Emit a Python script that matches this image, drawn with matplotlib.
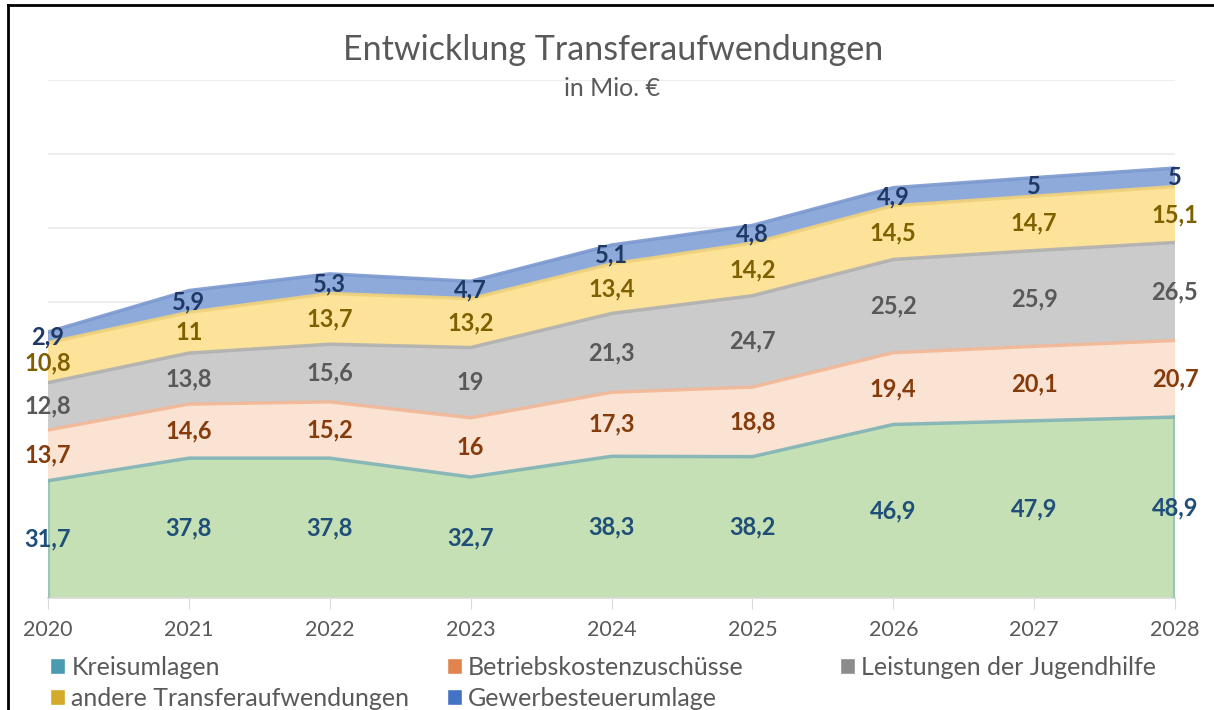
import numpy as np
import matplotlib.pyplot as plt
from matplotlib.patches import Patch
from matplotlib.lines import Line2D

plt.rcParams['font.family'] = ['Lato', 'DejaVu Sans']

years = ['2020', '2021', '2022', '2023', '2024', '2025', '2026', '2027', '2028']
kreisumlagen = [31.7, 37.8, 37.8, 32.7, 38.3, 38.2, 46.9, 47.9, 48.9]
betriebskosten = [13.7, 14.6, 15.2, 16, 17.3, 18.8, 19.4, 20.1, 20.7]
jugendhilfe = [12.8, 13.8, 15.6, 19, 21.3, 24.7, 25.2, 25.9, 26.5]
andere = [10.8, 11, 13.7, 13.2, 13.4, 14.2, 14.5, 14.7, 15.1]
gewerbe = [2.9, 5.9, 5.3, 4.7, 5.1, 4.8, 4.9, 5, 5]

names = ['Kreisumlagen', 'Betriebskostenzuschüsse', 'Leistungen der Jugendhilfe',
         'andere Transferaufwendungen', 'Gewerbesteuerumlage']
series = [kreisumlagen, betriebskosten, jugendhilfe, andere, gewerbe]

fills = ['#c5e0b4', '#fbe3d4', '#cbcbcb', '#fde39a', '#8eaadb']
edges = ['#7fb3b5', '#f2b896', '#b0b0b0', '#f0d27a', '#7b98cf']
label_cols = ['#1f4e79', '#843c0c', '#595959', '#7f6000', '#1f3864']
legend_cols = ['#4a9ab0', '#e0834f', '#8c8c8c', '#d4aa2a', '#4472c4']

fig = plt.figure(figsize=(12.14, 7.10), dpi=100)
ax = fig.add_axes([48 / 1214, 1 - 598 / 710, (1175 - 48) / 1214, (598 - 80) / 710])

x = np.arange(len(years))
data = np.array(series)
ax.stackplot(x, data, colors=fills, zorder=2)

bottom = np.zeros(len(years))
for i, vals in enumerate(data):
    top = bottom + vals
    ax.plot(x, top, color=edges[i], lw=2.5, alpha=0.9, zorder=3)
    mid = bottom + vals / 2
    for xi, yi, v in zip(x, mid, vals):
        txt = ('%g' % v).replace('.', ',')
        ax.text(xi, yi, txt, ha='center', va='center', fontsize=17,
                fontweight='bold', color=label_cols[i], zorder=5)
    bottom = top
# soft edges at the sides of the green area
ax.plot([0, 0], [0, kreisumlagen[0]], color=edges[0], lw=3, alpha=0.6, zorder=3)
ax.plot([8, 8], [0, kreisumlagen[-1]], color=edges[0], lw=3, alpha=0.6, zorder=3)

ax.set_xlim(0, len(years) - 1)
ax.set_ylim(0, 140)
ax.set_yticks(np.arange(0, 141, 20))
ax.yaxis.grid(True, color='#ebebeb', lw=1.2, zorder=0)
ax.set_axisbelow(True)
ax.tick_params(axis='y', left=False, labelleft=False)
ax.set_xticks(x)
ax.set_xticklabels(years)
ax.tick_params(axis='x', length=8, color='#d9d9d9', labelsize=15.5,
               labelcolor='#595959', pad=8)
for s in ['top', 'right', 'left']:
    ax.spines[s].set_visible(False)
ax.spines['bottom'].set_color('#d9d9d9')
ax.spines['bottom'].set_linewidth(1.2)
ax.patch.set_alpha(0)

fig.text(0.505, 1 - 50 / 710, 'Entwicklung Transferaufwendungen', ha='center', va='center',
         fontsize=24.5, color='#595959')
fig.text(0.504, 1 - 89 / 710, 'in Mio. €', ha='center', va='center',
         fontsize=18, color='#595959')

# one legend per column so the columns sit at fixed positions
columns = [[0, 3], [1, 4], [2]]
col_x = [50, 447, 840]
for idx, cx in zip(columns, col_x):
    handles = [Patch(facecolor=legend_cols[i], edgecolor='white') for i in idx]
    leg = fig.legend(handles, [names[i] for i in idx], loc='upper left',
                     bbox_to_anchor=(cx / 1214, 1 - 656 / 710), frameon=False,
                     fontsize=18, handlelength=0.6, handleheight=0.6,
                     handletextpad=0.25, labelspacing=0.3, borderaxespad=0,
                     borderpad=0)
    for t in leg.get_texts():
        t.set_color('#595959')

fig.add_artist(Line2D([8 / 1214, 8 / 1214], [0, 1 - 5 / 710], color='black', lw=2))
fig.add_artist(Line2D([8 / 1214, 1], [1 - 5 / 710, 1 - 5 / 710], color='black', lw=2))

fig.savefig('out.png', dpi=100)
